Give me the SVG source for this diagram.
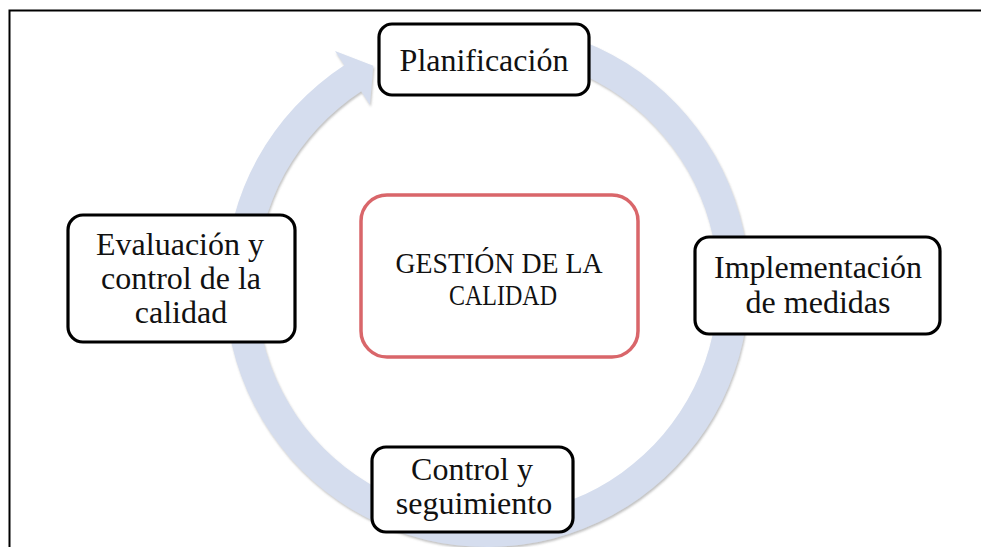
<svg xmlns="http://www.w3.org/2000/svg" width="981" height="547" viewBox="0 0 981 547">
  <style>
    .node rect { fill: #ffffff; stroke: #000000; stroke-width: 3.2; }
    .center rect { fill: #ffffff; stroke: #D9666A; stroke-width: 3.5; }
    text { font-family: "Liberation Serif", "Times New Roman", serif; font-size: 32px; fill: #111111; text-anchor: middle; }
    .ctext { font-size: 30px; }
    .frame { stroke: #000000; stroke-width: 2; fill: none; }
  </style>
  <defs>
    <filter id="shadow" x="-10%" y="-10%" width="120%" height="120%">
      <feDropShadow dx="1" dy="2" stdDeviation="1.3" flood-color="#777777" flood-opacity="0.45"/>
    </filter>
  </defs>
  <rect width="981" height="547" fill="#ffffff"/>
  <path class="frame" d="M9.5,547 V10.5 H981"/>

  <g id="connectors">
    <path id="cycle-arrow" filter="url(#shadow)" fill="#D5DDEE"
      d="M441.5,27 A262,262 0 1 1 344.3,65.3 L335,51 L373.3,65.7 L369.9,104.7 L361.2,91.3 A231,231 0 1 0 446.9,57.5 Z"/>
  </g>

  <g id="center" class="center">
    <rect x="361" y="195" width="277" height="162" rx="26" ry="26"/>
    <text class="ctext" x="499" y="273" textLength="207" lengthAdjust="spacingAndGlyphs">GESTIÓN DE LA</text>
    <text class="ctext" x="503" y="305" textLength="108" lengthAdjust="spacingAndGlyphs">CALIDAD</text>
  </g>

  <g id="planificacion" class="node">
    <rect x="379" y="24" width="210" height="71" rx="13" ry="13"/>
    <text x="484" y="71">Planificación</text>
  </g>

  <g id="implementacion" class="node">
    <rect x="695" y="237" width="245" height="97" rx="14" ry="14"/>
    <text x="818" y="278">Implementación</text>
    <text x="818" y="313">de medidas</text>
  </g>

  <g id="control" class="node">
    <rect x="372" y="447" width="201" height="85" rx="14" ry="14"/>
    <text x="472" y="480">Control y</text>
    <text x="474" y="514">seguimiento</text>
  </g>

  <g id="evaluacion" class="node">
    <rect x="68" y="215" width="227" height="127" rx="15" ry="15"/>
    <text x="180" y="255">Evaluación y</text>
    <text x="181" y="289">control de la</text>
    <text x="181" y="323">calidad</text>
  </g>
</svg>
